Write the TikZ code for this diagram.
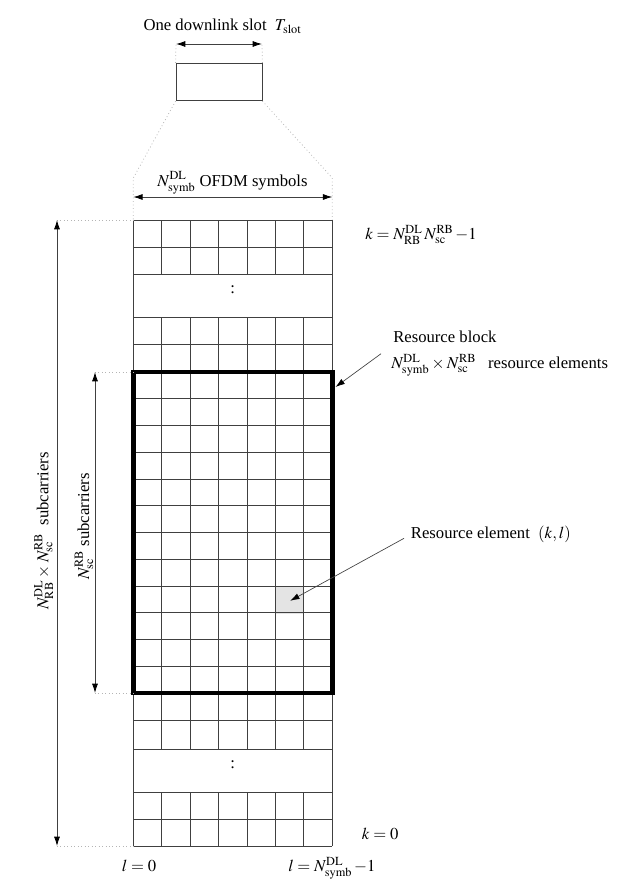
\documentclass[tikz,border=0pt]{standalone}
\usepackage{mathptmx}
\usepackage{fontspec}
\setmainfont{Liberation Serif}
\usepackage{tikz}
\usetikzlibrary{arrows.meta, positioning, calc}
\definecolor{gridgray}{HTML}{404040}
\definecolor{dotgray}{HTML}{B4B4B4}
\definecolor{cellgray}{HTML}{E4E4E4}

\begin{document}
\begin{tikzpicture}[
  x=0.75pt, y=-0.75pt,
  every node/.style={font=\fontsize{12.5}{15}\selectfont, inner sep=0pt},
  gridline/.style={draw=gridgray, line width=0.6pt},
  guide/.style={draw=dotgray, dotted, line width=0.6pt},
  dimarrow/.style={draw=gridgray, line width=0.6pt, {Latex[length=7pt,width=4.5pt,color=black]}-{Latex[length=7pt,width=4.5pt,color=black]}},
  pointer/.style={draw=gridgray, line width=0.5pt, -{Latex[length=7pt,width=4.5pt,color=black]}},
  rbframe/.style={draw=black, line width=3.6pt},
  slotbox/.style={draw=gridgray, line width=0.6pt, minimum width=64.5pt, minimum height=28pt},
]
\useasboundingbox (0,0) rectangle (629,892);

% one slot
\node[slotbox] (slot) at (219,82) {};
\coordinate (slotL) at (176,44);
\coordinate (slotR) at (262,44);
\draw[guide] (slot.north west) -- (slotL);
\draw[guide] (slot.north east) -- (slotR);
\draw[dimarrow] (slotL) -- (slotR);
\node[anchor=base] (slotlbl) at (222.5,30.7) {One downlink slot\ \ $T_{\mathrm{slot}}$};

% grid corners
\coordinate (gTL) at (133.3,220);
\coordinate (gTR) at (332.3,220);
\coordinate (gBL) at (133.3,846);
\coordinate (gBR) at (332.3,846);
\coordinate (rbTL) at (133.3,372);
\coordinate (rbBR) at (332.3,693);
\coordinate (bendL) at (133.3,178);
\coordinate (bendR) at (332.3,178);

% zoom from slot to symbols
\draw[guide] (slot.south west) -- (bendL) -- (gTL);
\draw[guide] (slot.south east) -- (bendR) -- (gTR);
\coordinate (symL) at (133.3,197);
\coordinate (symR) at (332.3,197);
\draw[dimarrow] (symL) -- (symR);
\node[anchor=base] (symlbl) at (232.5,186) {$N^{\mathrm{DL}}_{\mathrm{symb}}$ OFDM symbols};

% resource element
\fill[cellgray] (276,587.3) rectangle (304.3,614.3);
\coordinate (re) at (290.2,600.8);

% grid
\foreach \y in {220,247.2,274,317,344.3,720.7,749,792,819.2,846}
  \draw[gridline] (133.3,\y) -- (332.3,\y);
\foreach \j in {1,...,11}
  \draw[gridline] (133.3,{372+\j*26.75}) -- (332.3,{372+\j*26.75});
\foreach \i in {1,...,6} {
  \draw[gridline] ({133.3+\i*28.43},220) -- ({133.3+\i*28.43},274);
  \draw[gridline] ({133.3+\i*28.43},317) -- ({133.3+\i*28.43},749);
  \draw[gridline] ({133.3+\i*28.43},792) -- ({133.3+\i*28.43},846);
}
\draw[gridline] (gTL) -- (gBL);
\draw[gridline] (gTR) -- (gBR);
\node (dotsT) at (232.8,290) {:};
\node (dotsB) at (232.8,765) {:};
\draw[rbframe] (rbTL) rectangle (rbBR);

% subcarrier spans
\coordinate (totT) at (57,220);
\coordinate (totB) at (57,846);
\coordinate (scT) at (95,372);
\coordinate (scB) at (95,693);
\draw[guide] (totT) -- (gTL);
\draw[guide] (totB) -- (gBL);
\draw[guide] (scT) -- (rbTL);
\draw[guide] (scB) -- (133.3,693);
\draw[dimarrow] (totT) -- (totB);
\draw[dimarrow] (scT) -- (scB);
\node[rotate=90, anchor=base west] (totlbl) at (48.3,610) {$N^{\mathrm{DL}}_{\mathrm{RB}}\times N^{\mathrm{RB}}_{\mathrm{sc}}$\ \ subcarriers};
\node[rotate=90, anchor=base west] (sclbl) at (89,580) {$N^{\mathrm{RB}}_{\mathrm{sc}}$ subcarriers};

% labels on the right
\node[anchor=base west] (kmax) at (365,239.3) {$k=N^{\mathrm{DL}}_{\mathrm{RB}}\,N^{\mathrm{RB}}_{\mathrm{sc}}\,{-}1$};
\node[anchor=base west] (rbtitle) at (393,342.3) {Resource block};
\node[anchor=base west] (rbsize) at (391,368.3) {$N^{\mathrm{DL}}_{\mathrm{symb}}\times N^{\mathrm{RB}}_{\mathrm{sc}}$\hspace{9pt}resource elements};
\coordinate (rbtip) at (335.5,387);
\draw[pointer] ([xshift=-7.5pt]rbsize.north west) -- (rbtip);
\node[anchor=base west] (relbl) at (410.7,538.3) {Resource element\ \ $(k,l)$};
\draw[pointer] ([xshift=-5pt]relbl.base west) -- (re);

% indices
\node[anchor=base west] (kzero) at (361.7,839) {$k=0$};
\node[anchor=base west] (lzero) at (121.7,871.7) {$l=0$};
\node[anchor=base west] (lmax) at (288,871.7) {$l=N^{\mathrm{DL}}_{\mathrm{symb}}\,{-}1$};

\end{tikzpicture}
\end{document}
